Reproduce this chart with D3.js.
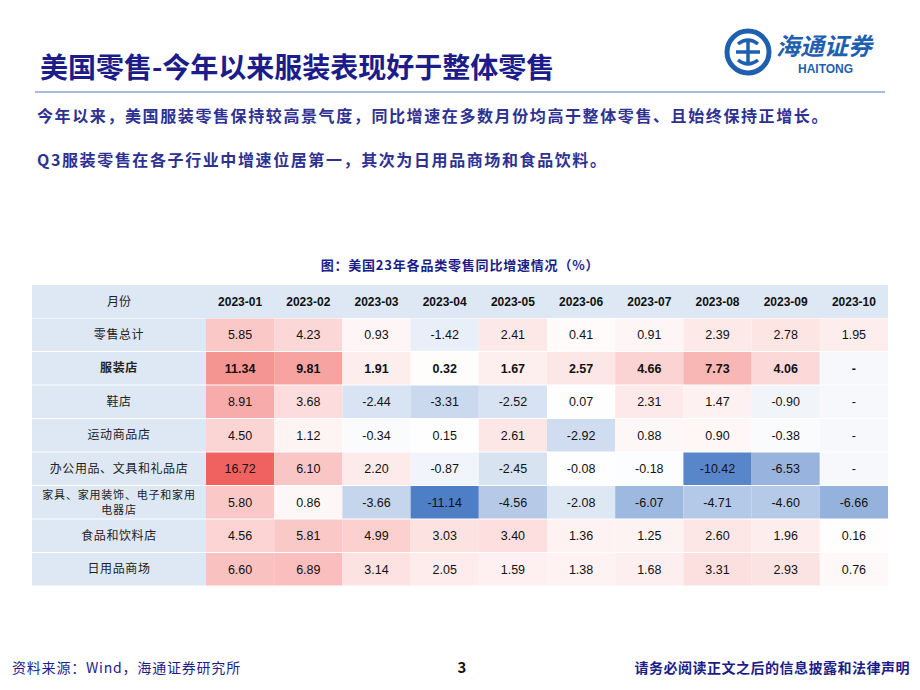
<!DOCTYPE html>
<html><head><meta charset="utf-8">
<script src="https://cdn.jsdelivr.net/npm/d3@7"></script>
<style>body{margin:0;background:#fff;}svg{display:block;font-family:"Noto Sans CJK SC","Noto Sans",sans-serif;}</style>
</head><body><svg id="c" width="920" height="690"></svg>
<script>
const months=["2023-01","2023-02","2023-03","2023-04","2023-05","2023-06","2023-07","2023-08","2023-09","2023-10"];
const categories=["零售总计","服装店","鞋店","运动商品店","办公用品、文具和礼品店","家具、家用装饰、电子和家用\n电器店","食品和饮料店","日用品商场"];
const v_total=[5.85,4.23,0.93,-1.42,2.41,0.41,0.91,2.39,2.78,1.95];
const v_apparel=[11.34,9.81,1.91,0.32,1.67,2.57,4.66,7.73,4.06,null];
const v_shoes=[8.91,3.68,-2.44,-3.31,-2.52,0.07,2.31,1.47,-0.90,null];
const v_sport=[4.50,1.12,-0.34,0.15,2.61,-2.92,0.88,0.90,-0.38,null];
const v_office=[16.72,6.10,2.20,-0.87,-2.45,-0.08,-0.18,-10.42,-6.53,null];
const v_furn=[5.80,0.86,-3.66,-11.14,-4.56,-2.08,-6.07,-4.71,-4.60,-6.66];
const v_food=[4.56,5.81,4.99,3.03,3.40,1.36,1.25,2.60,1.96,0.16];
const v_general=[6.60,6.89,3.14,2.05,1.59,1.38,1.68,3.31,2.93,0.76];
const values=[v_total,v_apparel,v_shoes,v_sport,v_office,v_furn,v_food,v_general];

const svg=d3.select("#c");
svg.append("text").attr("x",40).attr("y",78).attr("font-size",28).attr("font-weight","bold").attr("fill","#1c1c8a").text("美国零售-今年以来服装表现好于整体零售");
svg.append("line").attr("x1",35).attr("x2",885).attr("y1",92).attr("y2",92).attr("stroke","#8aa6d6").attr("stroke-width",1.5);
svg.append("text").attr("x",37).attr("y",122).attr("font-size",16).attr("letter-spacing",1.6).attr("font-weight","bold").attr("fill","#2e3192").text("今年以来，美国服装零售保持较高景气度，同比增速在多数月份均高于整体零售、且始终保持正增长。");
svg.append("text").attr("x",37).attr("y",166).attr("font-size",16).attr("letter-spacing",1.6).attr("font-weight","bold").attr("fill","#2e3192").text("Q3服装零售在各子行业中增速位居第一，其次为日用品商场和食品饮料。");
const lg=svg.append("g").attr("transform","translate(748,52)");
lg.append("circle").attr("r",21).attr("fill","none").attr("stroke","#1f5fb0").attr("stroke-width",5);
lg.append("path").attr("d","M-10,-8 Q0,-16 10,-8 M-10,8 Q0,16 10,8 M-12,0 H12 M0,-12 V12").attr("stroke","#1f5fb0").attr("stroke-width",3.5).attr("fill","none");
svg.append("text").attr("x",776).attr("y",55).attr("font-size",24).attr("font-style","italic").attr("font-weight","bold").attr("fill","#1f5fb0").text("海通证券");
svg.append("text").attr("x",798).attr("y",73).attr("font-size",12).attr("font-weight","bold").attr("fill","#1f5fb0").attr("font-family","Liberation Sans,Arial").text("HAITONG");

svg.append("text").attr("x",460).attr("y",270).attr("text-anchor","middle").attr("font-size",13).attr("letter-spacing",0.8).attr("font-weight","bold").attr("fill","#1c1c8a").text("图：美国23年各品类零售同比增速情况（%）");

const x0=32,x1=888,c0=206,yTop=285,hH=33,rowH=33.5;
const xs=d3.scaleBand().domain(months).range([c0,x1]);
const ys=d3.scaleBand().domain(categories).range([yTop+hH,yTop+hH+rowH*categories.length]);
const color=d3.scaleLinear().domain([-11.14,0,16.72]).range(["#4d7ec6","#ffffff","#f0625f"]);
const hb="#dde8f4";
svg.append("rect").attr("x",x0).attr("y",yTop).attr("width",x1-x0).attr("height",hH).attr("fill",hb);
svg.append("text").attr("x",(x0+c0)/2).attr("y",yTop+hH/2+4.5).attr("text-anchor","middle").attr("font-size",12).attr("fill","#222").text("月份");
svg.selectAll(".mh").data(months).join("text").attr("x",d=>xs(d)+xs.bandwidth()/2).attr("y",yTop+hH/2+4.5).attr("text-anchor","middle").attr("font-size",12).attr("font-weight","bold").attr("font-family","Liberation Sans,Arial").attr("fill","#111").text(d=>d);
categories.forEach((c,i)=>{
  const y=ys(c);
  svg.append("rect").attr("x",x0).attr("y",y+0.5).attr("width",c0-x0).attr("height",rowH-1).attr("fill",hb);
  const lines=c.split("\n");
  const fs=lines.length>1?11:12;
  lines.forEach((l,j)=>svg.append("text").attr("x",(x0+c0)/2).attr("y",y+rowH/2+4+(j-(lines.length-1)/2)*15).attr("text-anchor","middle").attr("font-size",fs).attr("letter-spacing",lines.length>1?0.8:0.6).attr("font-weight",i==1?"bold":"normal").attr("fill","#222").text(l));
  months.forEach((m,k)=>{
    const v=values[i][k];
    svg.append("rect").attr("x",xs(m)).attr("y",y+0.5).attr("width",xs.bandwidth()).attr("height",rowH-1).attr("fill",v==null?"#f6f8fc":color(v));
    svg.append("text").attr("x",xs(m)+xs.bandwidth()/2).attr("y",y+rowH/2+4.5).attr("text-anchor","middle").attr("font-size",12.5).attr("font-family","Liberation Sans,Arial").attr("font-weight",i==1?"bold":"normal").attr("fill","#111").text(v==null?"-":v.toFixed(2));
  });
});

svg.append("text").attr("x",12).attr("y",673).attr("font-size",14).attr("letter-spacing",0.8).attr("fill","#1c1c8a").text("资料来源：Wind，海通证券研究所");
svg.append("text").attr("x",462).attr("y",673).attr("text-anchor","middle").attr("font-size",15).attr("font-weight","bold").attr("fill","#111").text("3");
svg.append("text").attr("x",910).attr("y",673).attr("text-anchor","end").attr("font-size",14).attr("letter-spacing",0.5).attr("font-weight","bold").attr("fill","#1c1c8a").text("请务必阅读正文之后的信息披露和法律声明");
</script></body></html>
